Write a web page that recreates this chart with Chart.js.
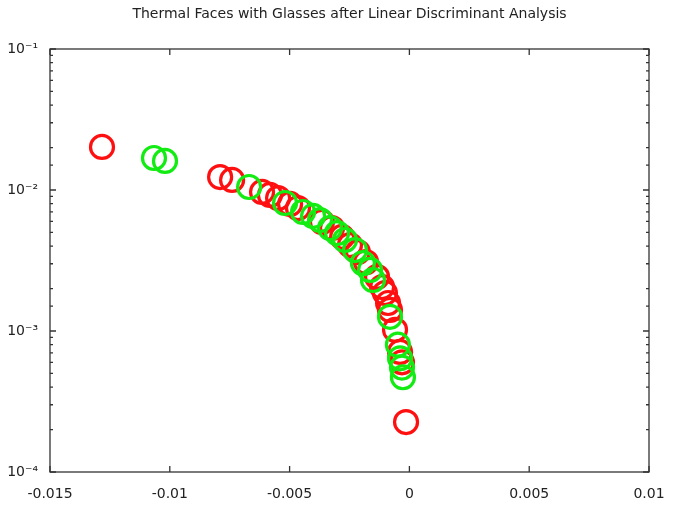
<!DOCTYPE html>
<html>
<head>
<meta charset="utf-8">
<script src="https://cdn.jsdelivr.net/npm/chart.js@4"></script>
<style>
  html, body { margin: 0; padding: 0; background: #fff; }
  #wrap { width: 681px; height: 508px; }
</style>
</head>
<body>
<div id="wrap"><canvas id="grafico" width="681" height="508"></canvas></div>
<script>
// dados
const redX = [-0.01283, -0.00790, -0.00740, -0.00615, -0.00582, -0.00548, -0.00498, -0.00465,
  -0.00365, -0.00323, -0.00281, -0.00248, -0.00215, -0.00181, -0.00135, -0.00114, -0.00102,
  -0.00089, -0.00081, -0.00060, -0.00039, -0.00031, -0.00014];
const redY = [0.0202, 0.01236, 0.01178, 0.00969, 0.00923, 0.00877, 0.00797, 0.00745,
  0.00593, 0.00537, 0.00465, 0.00407, 0.00363, 0.00308, 0.00242, 0.00205, 0.00186,
  0.00158, 0.00141, 0.00102, 0.00071, 0.00060, 0.000226];

const greenX = [-0.01066, -0.01020, -0.00669, -0.00519, -0.00444, -0.00402, -0.00373, -0.00331,
  -0.00302, -0.00269, -0.00227, -0.00194, -0.00164, -0.00152, -0.00081, -0.00048, -0.00039,
  -0.00031, -0.00027];
const greenY = [0.01687, 0.01607, 0.01050, 0.00809, 0.00698, 0.00655, 0.00612, 0.00537,
  0.00495, 0.00442, 0.00375, 0.00303, 0.00271, 0.00230, 0.00126, 0.00080, 0.00064,
  0.00055, 0.00047];

const xTickLabels = ['-0.015', '-0.01', '-0.005', '0', '0.005', '0.01'];
const yTickValues = [1e-4, 1e-3, 1e-2, 1e-1];
const yTickLabels = ['10\u207B\u2074', '10\u207B\u00B3', '10\u207B\u00B2', '10\u207B\u00B9'];

const titulo = 'Thermal Faces with Glasses after Linear Discriminant Analysis';

function pontos(xs, ys) {
  return xs.map((x, i) => ({ x: x, y: ys[i] }));
}

function ehDecada(v) {
  const l = Math.log10(v);
  return Math.abs(l - Math.round(l)) < 1e-6;
}

// caixa e marcas para dentro (estilo gnuplot)
const caixaPlugin = {
  id: 'caixa',
  afterDraw(chart) {
    const ctx = chart.ctx;
    const a = chart.chartArea;
    const sx = chart.scales.x;
    const sy = chart.scales.y;
    ctx.save();
    ctx.strokeStyle = '#333';
    ctx.lineWidth = 1.3;
    ctx.strokeRect(a.left, a.top, a.right - a.left, a.bottom - a.top);
    ctx.beginPath();
    sx.ticks.forEach(t => {
      const px = sx.getPixelForValue(t.value);
      ctx.moveTo(px, a.bottom); ctx.lineTo(px, a.bottom - 6);
      ctx.moveTo(px, a.top); ctx.lineTo(px, a.top + 6);
    });
    sy.ticks.forEach(t => {
      const py = sy.getPixelForValue(t.value);
      const len = ehDecada(t.value) ? 6 : 3;
      ctx.moveTo(a.left, py); ctx.lineTo(a.left + len, py);
      ctx.moveTo(a.right, py); ctx.lineTo(a.right - len, py);
    });
    ctx.stroke();
    ctx.restore();
  }
};

const ctx = document.getElementById('grafico').getContext('2d');
const chart = new Chart(ctx, {
  type: 'scatter',
  data: {
    datasets: [
      {
        label: 'sem óculos',
        data: pontos(redX, redY),
        borderColor: '#ff1010',
        backgroundColor: 'rgba(0,0,0,0)',
        borderWidth: 3.2,
        pointRadius: 11.5,
        order: 1
      },
      {
        label: 'com óculos',
        data: pontos(greenX, greenY),
        borderColor: '#12ec12',
        backgroundColor: 'rgba(0,0,0,0)',
        borderWidth: 3.2,
        pointRadius: 11.5,
        order: 0
      }
    ]
  },
  options: {
    responsive: false,
    animation: false,
    devicePixelRatio: 1,
    layout: { padding: { left: 0, right: 32, top: 0, bottom: 0 } },
    plugins: {
      legend: { display: false },
      tooltip: { enabled: false },
      title: {
        display: true,
        text: titulo,
        fullSize: false,
        color: '#222',
        font: { family: 'DejaVu Sans', size: 14, weight: 'normal', lineHeight: 1.2 },
        padding: { top: 6, bottom: 26.2 }
      }
    },
    scales: {
      x: {
        type: 'linear',
        min: -0.015,
        max: 0.01,
        grid: { display: false, drawTicks: false },
        border: { display: false },
        ticks: {
          stepSize: 0.005,
          padding: 14,
          color: '#222',
          font: { family: 'DejaVu Sans', size: 14 },
          callback: (v, i) => xTickLabels[i]
        },
        afterFit: s => { s.height = 36; }
      },
      y: {
        type: 'logarithmic',
        min: 1e-4,
        max: 1e-1,
        grid: { display: false, drawTicks: false },
        border: { display: false },
        ticks: {
          autoSkip: false,
          padding: 12,
          color: '#222',
          font: { family: 'DejaVu Sans', size: 14 },
          callback: function(v) {
            const i = yTickValues.findIndex(t => Math.abs(Math.log10(t) - Math.log10(v)) < 1e-6);
            return i >= 0 ? yTickLabels[i] : '';
          }
        },
        afterFit: s => { s.width = 50; }
      }
    }
  },
  plugins: [caixaPlugin]
});
</script>
</body>
</html>
